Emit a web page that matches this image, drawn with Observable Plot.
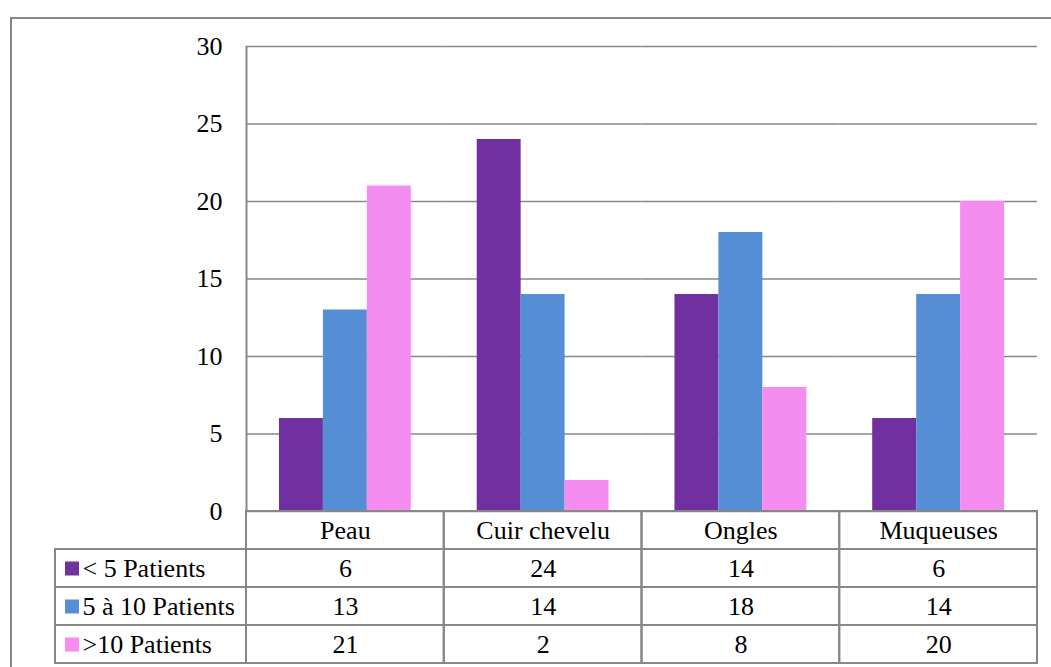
<!DOCTYPE html>
<html>
<head>
<meta charset="utf-8">
<script src="https://cdn.jsdelivr.net/npm/d3@7"></script>
<script src="https://cdn.jsdelivr.net/npm/@observablehq/plot@0.6"></script>
<style>
  html, body { margin: 0; padding: 0; background: #fff; overflow: hidden; }
  #wrap { position: relative; width: 1051px; height: 667px; }
  #wrap svg, #wrap svg text { font-family: "Liberation Serif", "Times New Roman", serif !important; }
  #border { position: absolute; left: 10px; top: 17px; width: 1100px; height: 700px;
            border-left: 2px solid #878787; border-top: 2px solid #878787; }
  #chart, #table { position: absolute; left: 0; top: 0; }
</style>
</head>
<body>
<div id="wrap">
  <div id="border"></div>
  <div id="chart"></div>
  <div id="table"></div>
</div>
<script>
// Lesions by site, split by number of patients per group
const categories = ["Peau", "Cuir chevelu", "Ongles", "Muqueuses"];
const series = ["< 5 Patients", "5 à 10 Patients", ">10 Patients"];
const lessThan5 = [6, 24, 14, 6];
const from5to10 = [13, 14, 18, 14];
const moreThan10 = [21, 2, 8, 20];
const colors = ["#7030A0", "#558ED5", "#F58DF1"];
const yTicks = [0, 5, 10, 15, 20, 25, 30];

const values = [lessThan5, from5to10, moreThan10];
const rows = series.flatMap((s, j) =>
  categories.map((c, i) => ({category: c, series: s, value: values[j][i]})));

const grey = "#878787";
const font = "Liberation Serif, Times New Roman, serif";

// Grouped column chart
const chart = Plot.plot({
  width: 1051,
  height: 667,
  marginLeft: 246,
  marginRight: 14,
  marginTop: 46,
  marginBottom: 156,
  style: {fontFamily: font, fontSize: "26px", color: "#000", background: "transparent"},
  fx: {domain: categories, paddingInner: 0, paddingOuter: 0, round: false, axis: null, label: null},
  x: {domain: series, paddingInner: 0, paddingOuter: 0.75, round: false, axis: null, label: null},
  y: {domain: [0, 30], ticks: yTicks, tickSize: 0, tickPadding: 24, label: null},
  color: {domain: series, range: colors},
  marks: [
    Plot.ruleY(yTicks, {stroke: grey, strokeWidth: 1.4, strokeOpacity: 1}),
    Plot.barY(rows, {fx: "category", x: "series", y: "value", fill: "series"})
  ]
});
document.getElementById("chart").appendChild(chart);

// Data table underneath the columns: column 0 holds the series names,
// columns 1..4 the categories; row 0 is the header row.
const cells = [
  ...categories.map((c, i) => ({col: i + 1, row: 0, text: c})),
  ...series.flatMap((s, j) => [
    {col: 0, row: j + 1, text: s, series: s},
    ...categories.map((c, i) => ({col: i + 1, row: j + 1, text: String(values[j][i])}))
  ])
];
const labelCells = cells.filter(d => d.col === 0);
const centredCells = cells.filter(d => d.col > 0);

const table = Plot.plot({
  width: 1051,
  height: 667,
  margin: 0,
  style: {fontFamily: font, fontSize: "26px", color: "#000", background: "transparent"},
  x: {type: "linear", domain: [0, 1, categories.length + 1], range: [55, 246, 1037], axis: null},
  y: {type: "linear", domain: [30, 0, -(series.length + 1)], range: [46, 511, 663], axis: null},
  marks: [
    Plot.ruleX([1], {y1: 30, y2: 0, stroke: grey, strokeWidth: 2}),
    Plot.rect(cells, {
      x1: d => d.col, x2: d => d.col + 1,
      y1: d => -d.row, y2: d => -d.row - 1,
      fill: "none", stroke: grey, strokeWidth: 2
    }),
    Plot.text(centredCells, {
      x: d => d.col + 0.5, y: d => -d.row - 0.5, text: "text",
      fill: "#000", fontSize: 26, fontFamily: font
    }),
    Plot.dot(labelCells, {
      x: d => d.col, y: d => -d.row - 0.5, dx: 16.5,
      symbol: "square", r: 7.9, stroke: "none",
      fill: d => colors[series.indexOf(d.series)]
    }),
    Plot.text(labelCells, {
      x: d => d.col, y: d => -d.row - 0.5, dx: 27, text: "text",
      textAnchor: "start", fill: "#000", fontSize: 26, fontFamily: font
    })
  ]
});
document.getElementById("table").appendChild(table);
</script>
</body>
</html>
